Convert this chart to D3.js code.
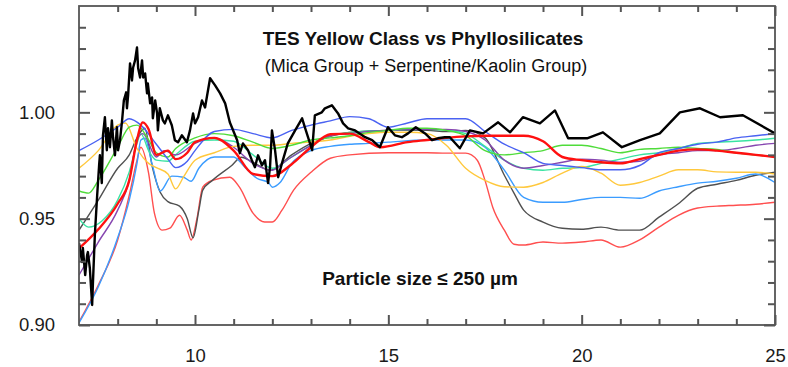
<!DOCTYPE html>
<html>
<head>
<meta charset="utf-8">
<script src="https://cdn.jsdelivr.net/npm/d3@7"></script>
<style>
  html, body { margin: 0; padding: 0; background: #fff; }
  svg { display: block; font-family: "Liberation Sans", Arial, Helvetica, sans-serif; }
</style>
</head>
<body>
<svg id="chart" width="788" height="367"></svg>
<script>
// ---------------- DATA (wavelength in µm, value = emissivity / ratio) ----------------
const titleText = "TES Yellow Class vs Phyllosilicates";
const subtitleText = "(Mica Group + Serpentine/Kaolin Group)";
const noteText = "Particle size \u2264 250 \u00b5m";

const xMajorTicks = [10, 15, 20, 25];
const xMinorTicks = [8, 9, 11, 12, 13, 14, 16, 17, 18, 19, 21, 22, 23, 24];
const yMajorTicks = [0.90, 0.95, 1.00];
const yMinorTicks = [0.91, 0.92, 0.93, 0.94, 0.96, 0.97, 0.98, 0.99, 1.01, 1.02, 1.03, 1.04];

// TES Yellow Class spectrum (thick black)
const tesYellow = [[7.00,0.9385],[7.08,0.9296],[7.10,0.9362],[7.16,0.9235],[7.21,0.9329],[7.23,0.9343],[7.28,0.9268],[7.34,0.9094],[7.36,0.9197],[7.41,0.9423],[7.47,0.9610],[7.52,0.9751],[7.54,0.9798],[7.59,0.9667],[7.62,0.9892],[7.67,0.9977],[7.72,0.9822],[7.75,0.9925],[7.80,0.9836],[7.85,0.9962],[7.88,0.9883],[7.93,0.9798],[7.98,0.9930],[8.01,0.9822],[8.06,0.9869],[8.11,0.9953],[8.16,1.0056],[8.22,1.0094],[8.24,1.0019],[8.27,1.0080],[8.32,1.0230],[8.37,1.0150],[8.40,1.0211],[8.45,1.0244],[8.50,1.0305],[8.53,1.0207],[8.58,1.0164],[8.63,1.0244],[8.66,1.0164],[8.71,1.0183],[8.76,1.0089],[8.78,1.0136],[8.84,1.0042],[8.89,1.0070],[8.91,0.9972],[8.97,1.0056],[9.02,0.9995],[9.04,0.9915],[9.09,1.0019],[9.17,0.9962],[9.22,0.9948],[9.30,0.9986],[9.40,0.9939],[9.48,0.9869],[9.56,0.9859],[9.66,0.9892],[9.79,0.9859],[9.87,0.9915],[9.95,0.9995],[10.00,0.9948],[10.08,0.9977],[10.18,1.0056],[10.26,1.0023],[10.39,1.0160],[10.52,1.0127],[10.65,1.0089],[10.78,1.0042],[10.90,0.9953],[11.09,0.9869],[11.16,0.9808],[11.24,0.9854],[11.37,0.9822],[11.47,0.9775],[11.55,0.9742],[11.63,0.9798],[11.73,0.9751],[11.81,0.9775],[11.89,0.9667],[11.94,0.9742],[11.99,0.9915],[12.07,0.9822],[12.15,0.9695],[12.25,0.9761],[12.40,0.9854],[12.59,0.9915],[12.77,0.9972],[12.84,0.9930],[13.03,0.9822],[13.10,0.9986],[13.28,1.0000],[13.36,1.0019],[13.54,1.0033],[13.70,0.9995],[13.83,0.9948],[13.96,0.9925],[14.14,0.9915],[14.40,0.9883],[14.58,0.9869],[14.78,0.9836],[14.99,0.9930],[15.17,0.9892],[15.35,0.9883],[15.51,0.9901],[15.71,0.9930],[15.95,0.9901],[16.13,0.9869],[16.28,0.9878],[16.46,0.9883],[16.59,0.9883],[16.85,0.9831],[17.11,0.9915],[17.45,0.9901],[17.84,0.9953],[18.15,0.9906],[18.48,0.9977],[18.92,0.9948],[19.31,1.0009],[19.65,0.9878],[20.14,0.9878],[20.55,0.9906],[21.04,0.9836],[21.51,0.9869],[22.02,0.9901],[22.54,1.0000],[23.06,1.0019],[23.58,0.9977],[24.17,0.9986],[25.00,0.9901]];

// Phyllosilicate library spectra
const redThick = [[7,0.936],[7.5,0.945],[8,0.957],[8.3,0.968],[8.5,0.987],[8.65,0.9953],[8.8,0.992],[9,0.980],[9.3,0.982],[9.5,0.978],[9.8,0.981],[10,0.986],[10.5,0.988],[11,0.982],[11.5,0.971],[12,0.970],[12.5,0.9756],[13,0.9836],[13.5,0.9897],[14,0.990],[14.5,0.986],[14.8,0.9836],[15.5,0.986],[16,0.987],[16.5,0.988],[17,0.9887],[17.5,0.989],[18,0.989],[18.5,0.989],[19,0.9864],[19.5,0.979],[20,0.9775],[20.5,0.9765],[21,0.976],[21.5,0.978],[22,0.980],[22.5,0.982],[23,0.9826],[23.5,0.982],[24,0.981],[24.5,0.980],[25,0.979]];

const blueLine = [[7,0.982],[7.5,0.987],[8,0.993],[8.3,0.997],[8.6,0.994],[9,0.985],[9.3,0.978],[9.5,0.974],[9.8,0.977],[10,0.982],[10.5,0.991],[11,0.992],[11.5,0.990],[12,0.988],[12.5,0.9915],[13,0.994],[13.5,0.996],[14,0.998],[14.5,0.997],[15,0.993],[15.5,0.995],[16,0.997],[16.5,0.997],[17,0.997],[17.5,0.991],[18,0.985],[18.5,0.981],[19,0.976],[19.5,0.975],[20,0.974],[20.5,0.973],[21,0.973],[21.5,0.975],[22,0.981],[22.5,0.983],[23,0.985],[23.5,0.986],[24,0.988],[24.5,0.989],[25,0.990]];

const greenLine = [[7,0.963],[7.25,0.962],[7.5,0.968],[8,0.9836],[8.3,0.993],[8.5,0.994],[8.8,0.987],[9,0.981],[9.3,0.979],[9.5,0.983],[10,0.988],[10.5,0.990],[11,0.989],[11.5,0.986],[12,0.983],[12.5,0.9845],[13,0.987],[13.5,0.988],[14,0.989],[14.5,0.9906],[15,0.9915],[15.5,0.9925],[16,0.9925],[16.5,0.9915],[17,0.989],[17.5,0.982],[18,0.980],[18.5,0.981],[19,0.982],[19.5,0.9845],[20,0.9845],[20.5,0.983],[21,0.981],[21.5,0.9826],[22,0.983],[22.5,0.9836],[23,0.983],[23.5,0.9826],[24,0.981],[24.5,0.980],[25,0.979]];

const yellowLine = [[7,0.9737],[7.5,0.982],[8,0.994],[8.2,0.995],[8.5,0.983],[8.8,0.976],[9,0.974],[9.3,0.971],[9.5,0.964],[9.7,0.9695],[10,0.9775],[10.5,0.981],[11,0.984],[11.5,0.9845],[12,0.9845],[12.5,0.9854],[13,0.986],[13.5,0.987],[14,0.9887],[14.5,0.990],[15,0.9906],[15.5,0.9906],[16,0.990],[16.5,0.9845],[17,0.9737],[17.5,0.968],[18,0.965],[18.5,0.9648],[19,0.967],[19.5,0.9714],[20,0.9746],[20.5,0.9714],[21,0.9657],[21.5,0.967],[22,0.970],[22.5,0.973],[23,0.973],[23.5,0.972],[24,0.9718],[24.5,0.9718],[25,0.971]];

const purpleLine = [[7,0.9235],[7.5,0.939],[8,0.954],[8.3,0.968],[8.5,0.987],[8.65,0.990],[9,0.979],[9.2,0.982],[9.5,0.980],[10,0.9854],[10.5,0.988],[11,0.9836],[11.5,0.976],[12,0.9728],[12.3,0.9765],[12.5,0.979],[13,0.9845],[13.5,0.989],[14,0.990],[14.5,0.991],[15,0.9915],[16,0.992],[16.5,0.992],[17,0.991],[17.5,0.987],[18,0.9775],[18.5,0.9737],[19,0.975],[19.5,0.9765],[20,0.978],[20.5,0.9775],[21,0.9765],[21.5,0.977],[22,0.980],[22.5,0.981],[23,0.982],[23.5,0.982],[24,0.983],[24.5,0.9845],[25,0.9854]];

const tealLine = [[7,0.950],[7.25,0.946],[7.6,0.949],[8,0.9587],[8.3,0.972],[8.5,0.9854],[8.6,0.990],[8.8,0.982],[9,0.9775],[9.3,0.977],[9.5,0.980],[10,0.9864],[10.5,0.987],[11,0.9864],[11.5,0.980],[12,0.9737],[12.5,0.979],[13,0.9845],[13.5,0.989],[14,0.9906],[15,0.9915],[16,0.992],[16.5,0.9915],[17,0.990],[17.5,0.984],[18,0.9775],[18.5,0.9737],[19,0.9728],[19.5,0.9737],[20,0.974],[20.5,0.976],[21,0.978],[21.5,0.980],[22,0.981],[22.5,0.983],[23,0.9854],[23.5,0.986],[24,0.9864],[24.5,0.987],[25,0.9878]];

const lightBlueLine = [[7,0.901],[7.5,0.918],[8,0.941],[8.3,0.9587],[8.5,0.976],[8.6,0.987],[8.7,0.9878],[8.9,0.975],[9.1,0.963],[9.4,0.970],[9.7,0.9695],[9.9,0.9676],[10.1,0.9737],[10.5,0.979],[11,0.979],[11.3,0.974],[11.6,0.969],[11.9,0.967],[12,0.9648],[12.2,0.967],[12.5,0.976],[13,0.982],[13.5,0.984],[14,0.985],[14.5,0.9854],[15,0.986],[16,0.987],[16.5,0.987],[17,0.987],[17.5,0.9836],[18,0.9728],[18.5,0.960],[19,0.9577],[19.5,0.9577],[20,0.959],[20.5,0.960],[21,0.960],[21.5,0.9596],[22,0.963],[22.5,0.965],[23,0.9667],[23.5,0.9676],[24,0.969],[24.5,0.971],[25,0.967]];

const grayLine = [[7,0.9446],[7.5,0.9587],[8,0.9737],[8.3,0.980],[8.5,0.988],[8.7,0.9925],[8.9,0.974],[9.1,0.9624],[9.3,0.958],[9.6,0.9559],[9.8,0.950],[9.95,0.941],[10.1,0.954],[10.2,0.9634],[10.45,0.968],[10.95,0.975],[11.2,0.9789],[11.5,0.9765],[11.95,0.9728],[12.5,0.980],[13,0.9854],[13.5,0.9887],[14,0.9906],[15,0.9915],[16,0.9915],[16.5,0.991],[17,0.9915],[17.5,0.988],[18,0.9704],[18.25,0.962],[18.5,0.954],[19,0.9484],[19.5,0.9455],[20,0.945],[20.5,0.946],[21,0.9446],[21.5,0.9446],[22,0.9507],[22.5,0.957],[23,0.9643],[23.5,0.9662],[24,0.968],[24.5,0.9704],[25,0.9718]];

const lightRedLine = [[7,0.9014],[7.5,0.9188],[8,0.940],[8.3,0.961],[8.5,0.9775],[8.6,0.9836],[8.8,0.9714],[8.95,0.9526],[9.15,0.9446],[9.35,0.9455],[9.6,0.9516],[9.8,0.9446],[9.9,0.940],[10.05,0.950],[10.2,0.9648],[10.45,0.968],[10.9,0.9695],[11.15,0.9648],[11.5,0.9526],[11.8,0.9484],[12,0.9484],[12.25,0.954],[12.55,0.9634],[13,0.9718],[13.5,0.9784],[14,0.980],[15,0.981],[16,0.981],[16.5,0.9808],[17,0.9808],[17.3,0.9775],[17.5,0.968],[17.7,0.9554],[18,0.9446],[18.25,0.938],[18.5,0.9376],[19,0.939],[19.5,0.9385],[20,0.939],[20.5,0.940],[21,0.9366],[21.5,0.940],[22,0.946],[22.5,0.9516],[23,0.955],[23.5,0.9559],[24,0.9563],[24.5,0.9568],[25,0.9577]];

// ---------------- CHART ----------------
const W = 788, H = 367;
const m = { left: 79, right: 13, top: 6, bottom: 42 };
const svg = d3.select("#chart");

const x = d3.scaleLinear().domain([7, 25]).range([m.left, W - m.right]);
const y = d3.scaleLinear().domain([0.90, 1.05]).range([H - m.bottom, m.top]);

svg.append("defs").append("clipPath").attr("id", "plotClip")
  .append("rect")
  .attr("x", x(7)).attr("y", y(1.05))
  .attr("width", x(25) - x(7)).attr("height", y(0.90) - y(1.05));

const seriesList = [
  { data: lightRedLine, color: "#ff4f4f", width: 1.4 },
  { data: grayLine, color: "#505050", width: 1.4 },
  { data: lightBlueLine, color: "#3b9cff", width: 1.4 },
  { data: tealLine, color: "#3ae3a2", width: 1.4 },
  { data: purpleLine, color: "#8646b0", width: 1.4 },
  { data: yellowLine, color: "#ffc83c", width: 1.4 },
  { data: greenLine, color: "#4fdc3a", width: 1.4 },
  { data: blueLine, color: "#4a62f2", width: 1.4 },
  { data: redThick, color: "#ff1010", width: 2.4 },
  { data: tesYellow, color: "#000000", width: 2.4, linear: true }
];

const gLines = svg.append("g").attr("clip-path", "url(#plotClip)");
seriesList.forEach(s => {
  const line = d3.line()
    .x(d => x(d[0]))
    .y(d => y(d[1]))
    .curve(s.linear ? d3.curveLinear : d3.curveMonotoneX);
  gLines.append("path")
    .datum(s.data)
    .attr("d", line)
    .attr("fill", "none")
    .attr("stroke", s.color)
    .attr("stroke-width", s.width)
    .attr("stroke-linejoin", "round");
});

// Axes (inward ticks on all four sides)
const axisColor = "#555555";
const bottomY = y(0.90), topY = y(1.05), leftX = x(7), rightX = x(25);

// Frame
svg.append("rect")
  .attr("x", leftX).attr("y", topY)
  .attr("width", rightX - leftX).attr("height", bottomY - topY)
  .attr("fill", "none").attr("stroke", axisColor).attr("stroke-width", 1.8);

function addAxis(axis, tx, ty, withLabels) {
  const g = svg.append("g").attr("transform", `translate(${tx},${ty})`).call(axis);
  g.select(".domain").remove();
  g.selectAll(".tick line")
    .attr("stroke", axisColor)
    .attr("stroke-width", 2)
    .style("stroke", axisColor)
    .style("stroke-width", "2px");
  g.selectAll(".tick text")
    .attr("fill", "#1a1a1a")
    .attr("font-size", 18.5)
    .attr("font-family", "\"Liberation Sans\", Arial, sans-serif");
  return g;
}

addAxis(d3.axisBottom(x).tickValues(xMajorTicks).tickSizeInner(-10).tickSizeOuter(0).tickPadding(24).tickFormat(d3.format("d")), 0, bottomY);
addAxis(d3.axisBottom(x).tickValues(xMinorTicks).tickSizeInner(-6).tickSizeOuter(0).tickFormat(() => ""), 0, bottomY);
addAxis(d3.axisTop(x).tickValues(xMajorTicks).tickSizeInner(-10).tickSizeOuter(0).tickFormat(() => ""), 0, topY);
addAxis(d3.axisTop(x).tickValues(xMinorTicks).tickSizeInner(-6).tickSizeOuter(0).tickFormat(() => ""), 0, topY);
addAxis(d3.axisLeft(y).tickValues(yMajorTicks).tickSizeInner(-11).tickSizeOuter(0).tickPadding(24).tickFormat(d3.format(".2f")), leftX, 0);
addAxis(d3.axisLeft(y).tickValues(yMinorTicks).tickSizeInner(-7).tickSizeOuter(0).tickFormat(() => ""), leftX, 0);
addAxis(d3.axisRight(y).tickValues(yMajorTicks).tickSizeInner(-11).tickSizeOuter(0).tickFormat(() => ""), rightX, 0);
addAxis(d3.axisRight(y).tickValues(yMinorTicks).tickSizeInner(-7).tickSizeOuter(0).tickFormat(() => ""), rightX, 0);

// Texts
svg.append("text").attr("x", 423).attr("y", 45).attr("text-anchor", "middle")
  .attr("font-size", 19).attr("font-weight", "bold").attr("fill", "#111")
  .text(titleText);
svg.append("text").attr("x", 426).attr("y", 72).attr("text-anchor", "middle")
  .attr("font-size", 18).attr("fill", "#111")
  .text(subtitleText);
svg.append("text").attr("x", 420).attr("y", 285).attr("text-anchor", "middle")
  .attr("font-size", 19).attr("font-weight", "bold").attr("fill", "#111")
  .text(noteText);
</script>
</body>
</html>
